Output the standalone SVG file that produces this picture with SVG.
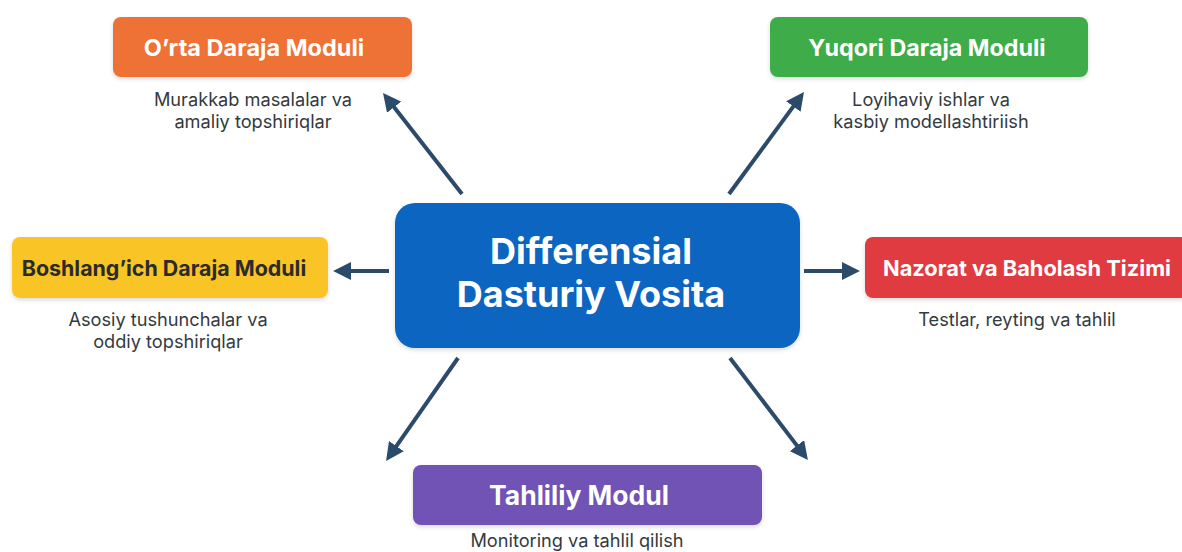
<svg xmlns="http://www.w3.org/2000/svg" width="1182" height="552" viewBox="0 0 1182 552">
<defs>
<marker id="ah" viewBox="0 0 10 10" refX="5.6" refY="5" markerUnits="strokeWidth" markerWidth="4.5" markerHeight="4.5" orient="auto">
<path d="M0,0 L10,5 L0,10 z" fill="#2c4a6a"/>
</marker>
<filter id="sh" x="-10%" y="-10%" width="120%" height="130%">
<feDropShadow dx="0" dy="2" stdDeviation="2" flood-color="#000" flood-opacity="0.15"/>
</filter>
<style>
.title{font-family:Inter,"Open Sans","Liberation Sans",sans-serif;font-weight:700;font-size:23.5px;fill:#fff;text-anchor:middle}
.sub{font-family:Inter,"Open Sans","Liberation Sans",sans-serif;font-size:18.2px;fill:#333a40;text-anchor:middle}
.main{font-family:Inter,"Open Sans","Liberation Sans",sans-serif;font-weight:700;font-size:36px;fill:#fff;text-anchor:middle}
.conn{stroke:#2c4a6a;stroke-width:4;fill:none;marker-end:url(#ah)}
</style>
</defs>
<rect width="1182" height="552" fill="#fff"/>
<g id="connectors">
<line class="conn" x1="462" y1="194" x2="387.9" y2="99.3"/>
<line class="conn" x1="729" y1="194" x2="799.3" y2="98.4"/>
<line class="conn" x1="389" y1="271" x2="341" y2="271"/>
<line class="conn" x1="804" y1="271" x2="852" y2="271"/>
<line class="conn" x1="458" y1="358" x2="390.6" y2="454.4"/>
<line class="conn" x1="730" y1="358" x2="803.1" y2="453.6"/>
</g>
<g id="center">
<rect x="395" y="203" width="405" height="145" rx="20" fill="#0b65c2" filter="url(#sh)"/>
<text class="main" x="591" y="264">Differensial</text>
<text class="main" x="591" y="307">Dasturiy Vosita</text>
</g>
<g id="orta">
<rect x="113" y="17" width="299" height="60" rx="8" fill="#ee7135" filter="url(#sh)"/>
<text class="title" x="254" y="56">O’rta Daraja Moduli</text>
<text class="sub" x="253" y="106">Murakkab masalalar va</text>
<text class="sub" x="253" y="128">amaliy topshiriqlar</text>
</g>
<g id="yuqori">
<rect x="770" y="17" width="318" height="60" rx="8" fill="#3dac4a" filter="url(#sh)"/>
<text class="title" x="927" y="56" style="font-size:23.3px">Yuqori Daraja Moduli</text>
<text class="sub" x="931" y="106">Loyihaviy ishlar va</text>
<text class="sub" x="931" y="128">kasbiy modellashtiriish</text>
</g>
<g id="boshlang">
<rect x="12" y="237" width="316" height="61" rx="8" fill="#f8c425" filter="url(#sh)"/>
<text class="title" x="164" y="276" style="fill:#2b2b2b;font-size:21.4px">Boshlang’ich Daraja Moduli</text>
<text class="sub" x="168" y="326">Asosiy tushunchalar va</text>
<text class="sub" x="168" y="348">oddiy topshiriqlar</text>
</g>
<g id="nazorat">
<rect x="865" y="237" width="324" height="61" rx="8" fill="#e03b3f" filter="url(#sh)"/>
<text class="title" x="1027" y="276" style="font-size:21.8px">Nazorat va Baholash Tizimi</text>
<text class="sub" x="1017" y="326">Testlar, reyting va tahlil</text>
</g>
<g id="tahliliy">
<rect x="413" y="465" width="349" height="60" rx="8" fill="#6f53b5" filter="url(#sh)"/>
<text class="title" x="579" y="505" style="font-size:26.5px">Tahliliy Modul</text>
<text class="sub" x="577" y="547">Monitoring va tahlil qilish</text>
</g>
</svg>
